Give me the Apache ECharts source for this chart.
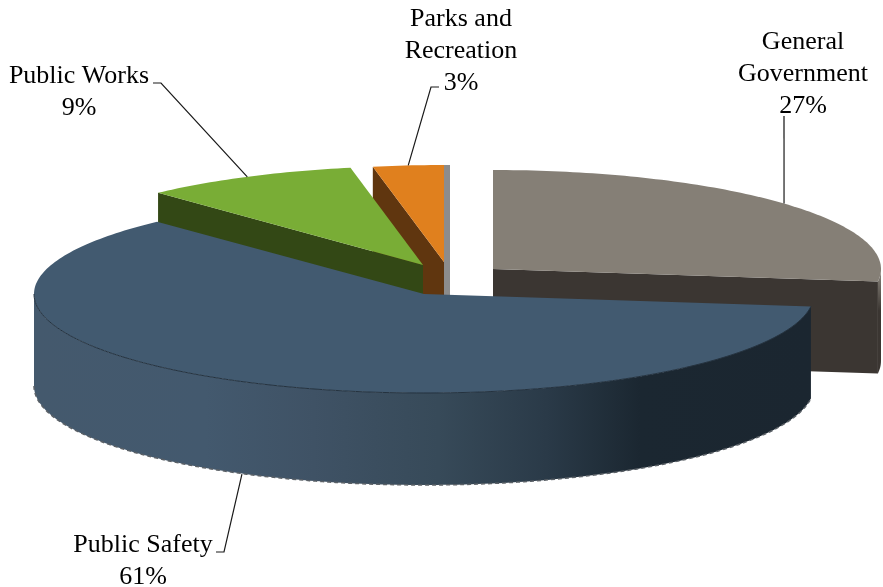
<!DOCTYPE html>
<html>
<head>
<meta charset="utf-8">
<title>Expenditures by function</title>
<style>
  html, body { margin: 0; padding: 0; background: #fff; }
  #chart { width: 883px; height: 587px; }
</style>
<script src="https://cdn.jsdelivr.net/npm/echarts@6/dist/echarts.min.js"></script>
</head>
<body>
<div id="chart"></div>
<script>
// Slices run clockwise from twelve o'clock.
const categories = ['General\nGovernment', 'Public Safety', 'Public Works', 'Parks and\nRecreation'];
const shares = [27, 61, 9, 3];

// Colours of each slice: top face, radial wall.
const topColors = ['#857f76', '#425a70', '#79ad36', '#e0801e'];
const wallColors = ['#3b3632', '#1b2630', '#334815', '#60360f'];

// Exploded placement of each slice on the page: apex and ellipse radii.
const apexes = [[493, 269], [424, 294], [423, 265], [444, 262]];
const radiiX = [388, 390, 387, 380];
const radiiY = [99, 99, 99, 97];
const DEPTH = 92;

// Back slices are painted first so that the front ones overlap them.
const paintOrder = [0, 3, 2, 1];

// Label centres and the elbow of each leader line.
const labelCentres = [[803, 74], [143, 561], [79, 92], [461, 51]];
const leaderStarts = [[784, 116], [216, 552], [153, 83], [439, 87]];
const leaderElbows = [null, [224, 552], [161, 83], [431, 87]];
const leaderTipShift = [0, -5, 0, 0];

const DEG = Math.PI / 180;
const total = shares.reduce((a, b) => a + b, 0);

// Sweep in screen degrees: 0 points right, 90 points at the viewer.
const sweeps = [];
let cursor = 270;
shares.forEach(function (share) {
  const span = share / total * 360;
  sweeps.push([cursor, cursor + span]);
  cursor += span;
});

function onRim(i, t) {
  return [
    apexes[i][0] + radiiX[i] * Math.cos(t * DEG),
    apexes[i][1] + radiiY[i] * Math.sin(t * DEG)
  ];
}

function arc(i, from, to) {
  const pts = [];
  const n = Math.max(2, Math.ceil(Math.abs(to - from)));
  for (let k = 0; k <= n; k++) pts.push(onRim(i, from + (to - from) * k / n));
  return pts;
}

function drop(pts) {
  return pts.map(function (p) { return [p[0], p[1] + DEPTH]; });
}

// Visible part of the outer rim: where the sine of the angle is positive.
function frontRanges(t0, t1) {
  const out = [];
  for (let base = 0; base <= 720; base += 360) {
    const a = Math.max(t0, base), b = Math.min(t1, base + 180);
    if (b > a) out.push([a, b]);
  }
  return out;
}

function rimFill(i) {
  if (i === 1) {
    return new echarts.graphic.LinearGradient(0, 0, 1, 0, [
      { offset: 0, color: '#44596d' },
      { offset: 0.22, color: '#43596e' },
      { offset: 0.36, color: '#3f5265' },
      { offset: 0.52, color: '#374a59' },
      { offset: 0.66, color: '#2a3a48' },
      { offset: 0.78, color: '#1b2731' },
      { offset: 1, color: '#1b2630' }
    ]);
  }
  return new echarts.graphic.LinearGradient(0, 0, 0, 1, [
    { offset: 0, color: '#8b867e' },
    { offset: 0.25, color: '#5c5751' },
    { offset: 0.4, color: '#3b3632' },
    { offset: 1, color: '#3b3632' }
  ]);
}

function renderSlice(params, api) {
  const i = params.dataIndex;
  const share = api.value(0);
  const t0 = sweeps[i][0], t1 = sweeps[i][1];
  const apex = apexes[i];
  const base = paintOrder.indexOf(i) * 10;
  const children = [];

  // Radial walls: only those turned towards the viewer are drawn.
  [[t0, -Math.cos(t0 * DEG)], [t1, Math.cos(t1 * DEG)]].forEach(function (edge) {
    if (edge[1] > 1e-6) {
      const rim = onRim(i, edge[0]);
      children.push({
        type: 'polygon',
        z2: base + 1,
        shape: { points: [apex, rim, [rim[0], rim[1] + DEPTH], [apex[0], apex[1] + DEPTH]] },
        style: { fill: wallColors[i] }
      });
    }
  });

  // Outer rim.
  frontRanges(t0, t1).forEach(function (range) {
    const upper = arc(i, range[0], range[1]);
    const lower = drop(upper).reverse();
    children.push({
      type: 'polygon',
      z2: base + 2,
      shape: { points: upper.concat(lower) },
      style: { fill: rimFill(i) }
    });
    if (i === 1) {
      // Stepped lower edge of the rim.
      children.push({
        type: 'polyline',
        z2: base + 3,
        shape: { points: lower },
        style: { fill: null, stroke: '#5a6066', lineWidth: 1.5, lineDash: [4, 3] }
      });
      // Dark line where the top face meets the rim.
      children.push({
        type: 'polyline',
        z2: base + 5,
        shape: { points: upper },
        style: { fill: null, stroke: '#24323f', lineWidth: 1 }
      });
    }
  });

  // Sliver of the cut face on a slice whose edge stands vertical.
  if (i === 3) {
    const corner = onRim(i, t1);
    children.push({
      type: 'polygon',
      z2: base + 1,
      shape: { points: [corner, [corner[0] + 6, corner[1]], [corner[0] + 6, apex[1] + 33], [corner[0], apex[1] + 33]] },
      style: { fill: '#8c8c8c' }
    });
  }

  // Top face.
  children.push({
    type: 'polygon',
    z2: base + 4,
    shape: { points: [apex].concat(arc(i, t0, t1)) },
    style: { fill: topColors[i] }
  });

  // Leader line ending on the mid-angle of the slice.
  const mid = (t0 + t1) / 2;
  const tip = onRim(i, mid);
  tip[0] += leaderTipShift[i];
  if (Math.sin(mid * DEG) > 0) tip[1] += DEPTH;
  const leader = [leaderStarts[i]];
  if (leaderElbows[i]) leader.push(leaderElbows[i]);
  leader.push(tip);
  children.push({
    type: 'polyline',
    z2: 60,
    shape: { points: leader },
    style: { fill: null, stroke: '#1a1a1a', lineWidth: 1.2 }
  });

  // Label.
  children.push({
    type: 'text',
    z2: 70,
    style: {
      text: categories[i] + '\n' + share + '%',
      x: labelCentres[i][0],
      y: labelCentres[i][1],
      align: 'center',
      verticalAlign: 'middle',
      font: '26px "Liberation Serif", "Times New Roman", serif',
      lineHeight: 32,
      fill: '#000'
    }
  });

  return { type: 'group', children: children };
}

const chart = echarts.init(document.getElementById('chart'), null, { renderer: 'canvas' });
chart.setOption({
  animation: false,
  backgroundColor: '#ffffff',
  series: [{
    type: 'custom',
    coordinateSystem: 'none',
    renderItem: renderSlice,
    data: shares.map(function (v) { return [v]; }),
    silent: true
  }]
});
</script>
</body>
</html>
